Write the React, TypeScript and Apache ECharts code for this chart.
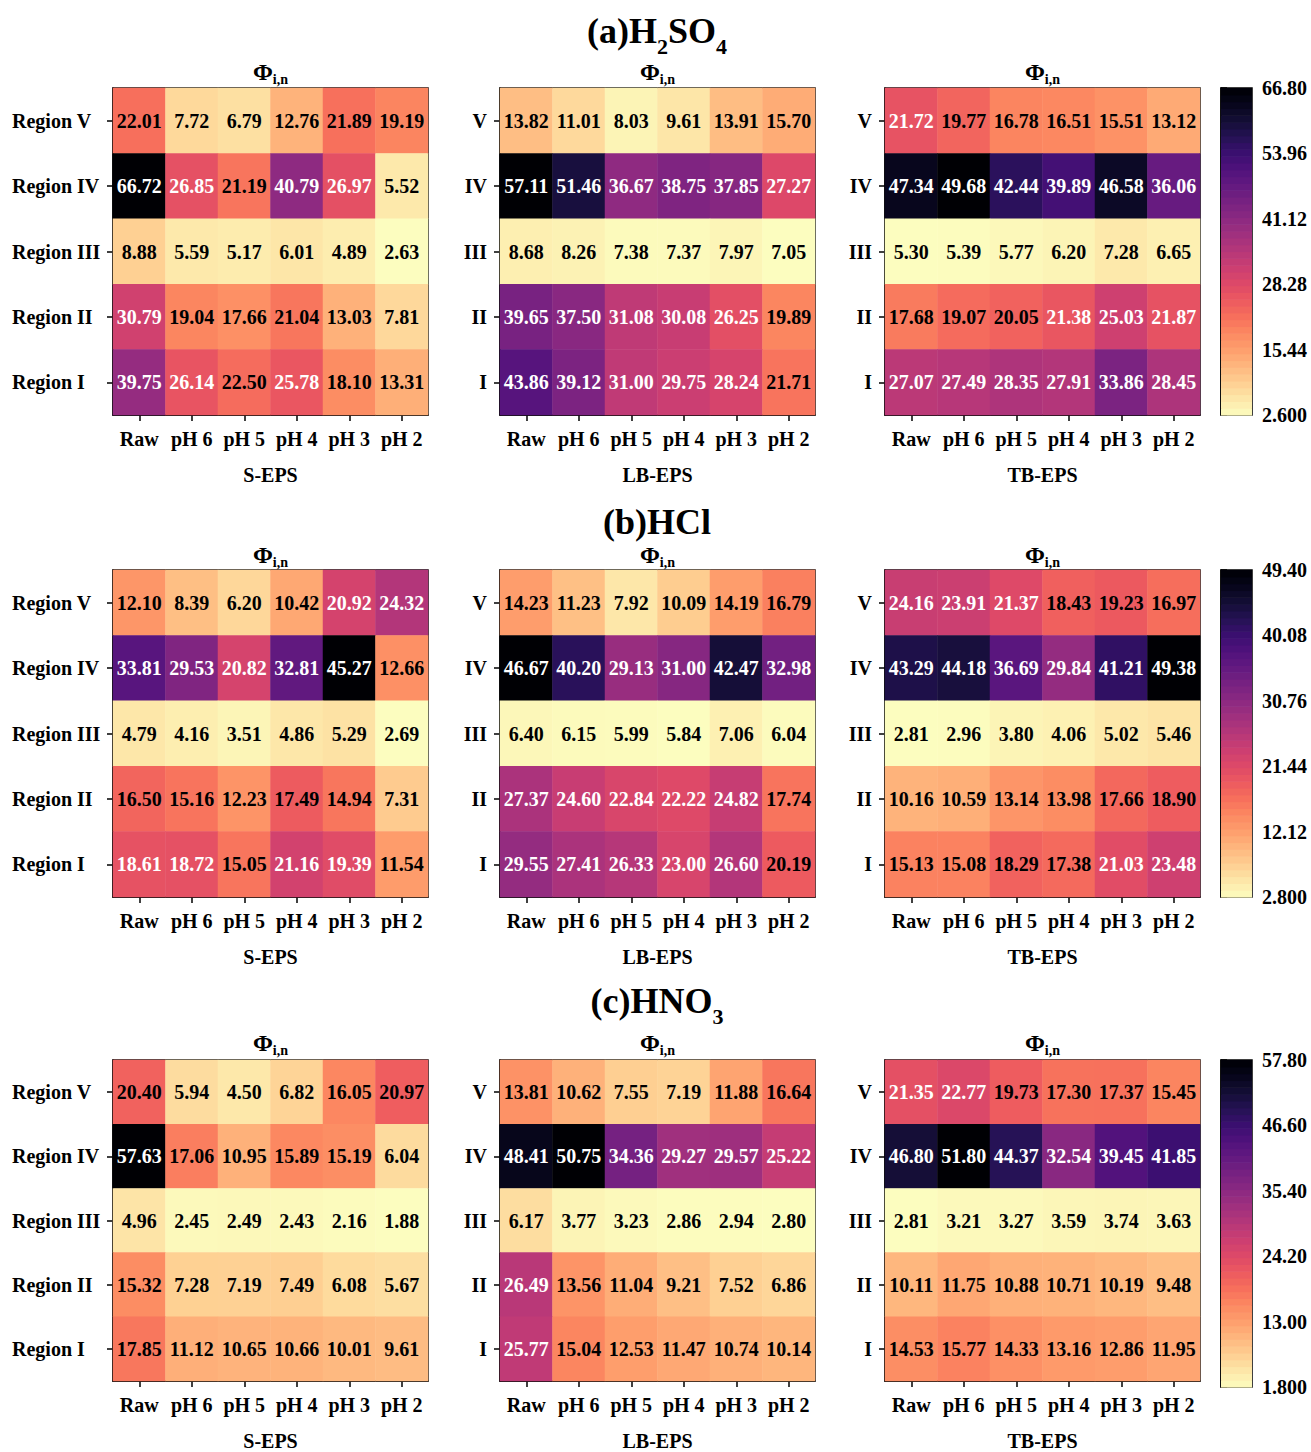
import React, { useEffect, useRef } from 'react';
import * as echarts from 'echarts';

const FONT = '"Liberation Serif", "Times New Roman", serif';

const xCategories = ['Raw', 'pH 6', 'pH 5', 'pH 4', 'pH 3', 'pH 2'];
const regions = ['I', 'II', 'III', 'IV', 'V'];
const panelNames = ['S-EPS', 'LB-EPS', 'TB-EPS'];
const rowTitles = ['(a)H{s|2}SO{s|4}', '(b)HCl', '(c)HNO{s|3}'];

// rows listed top to bottom: Region V, IV, III, II, I
const h2so4S = [
  [22.01, 7.72, 6.79, 12.76, 21.89, 19.19],
  [66.72, 26.85, 21.19, 40.79, 26.97, 5.52],
  [8.88, 5.59, 5.17, 6.01, 4.89, 2.63],
  [30.79, 19.04, 17.66, 21.04, 13.03, 7.81],
  [39.75, 26.14, 22.5, 25.78, 18.1, 13.31],
];
const h2so4LB = [
  [13.82, 11.01, 8.03, 9.61, 13.91, 15.7],
  [57.11, 51.46, 36.67, 38.75, 37.85, 27.27],
  [8.68, 8.26, 7.38, 7.37, 7.97, 7.05],
  [39.65, 37.5, 31.08, 30.08, 26.25, 19.89],
  [43.86, 39.12, 31.0, 29.75, 28.24, 21.71],
];
const h2so4TB = [
  [21.72, 19.77, 16.78, 16.51, 15.51, 13.12],
  [47.34, 49.68, 42.44, 39.89, 46.58, 36.06],
  [5.3, 5.39, 5.77, 6.2, 7.28, 6.65],
  [17.68, 19.07, 20.05, 21.38, 25.03, 21.87],
  [27.07, 27.49, 28.35, 27.91, 33.86, 28.45],
];
const hclS = [
  [12.1, 8.39, 6.2, 10.42, 20.92, 24.32],
  [33.81, 29.53, 20.82, 32.81, 45.27, 12.66],
  [4.79, 4.16, 3.51, 4.86, 5.29, 2.69],
  [16.5, 15.16, 12.23, 17.49, 14.94, 7.31],
  [18.61, 18.72, 15.05, 21.16, 19.39, 11.54],
];
const hclLB = [
  [14.23, 11.23, 7.92, 10.09, 14.19, 16.79],
  [46.67, 40.2, 29.13, 31.0, 42.47, 32.98],
  [6.4, 6.15, 5.99, 5.84, 7.06, 6.04],
  [27.37, 24.6, 22.84, 22.22, 24.82, 17.74],
  [29.55, 27.41, 26.33, 23.0, 26.6, 20.19],
];
const hclTB = [
  [24.16, 23.91, 21.37, 18.43, 19.23, 16.97],
  [43.29, 44.18, 36.69, 29.84, 41.21, 49.38],
  [2.81, 2.96, 3.8, 4.06, 5.02, 5.46],
  [10.16, 10.59, 13.14, 13.98, 17.66, 18.9],
  [15.13, 15.08, 18.29, 17.38, 21.03, 23.48],
];
const hno3S = [
  [20.4, 5.94, 4.5, 6.82, 16.05, 20.97],
  [57.63, 17.06, 10.95, 15.89, 15.19, 6.04],
  [4.96, 2.45, 2.49, 2.43, 2.16, 1.88],
  [15.32, 7.28, 7.19, 7.49, 6.08, 5.67],
  [17.85, 11.12, 10.65, 10.66, 10.01, 9.61],
];
const hno3LB = [
  [13.81, 10.62, 7.55, 7.19, 11.88, 16.64],
  [48.41, 50.75, 34.36, 29.27, 29.57, 25.22],
  [6.17, 3.77, 3.23, 2.86, 2.94, 2.8],
  [26.49, 13.56, 11.04, 9.21, 7.52, 6.86],
  [25.77, 15.04, 12.53, 11.47, 10.74, 10.14],
];
const hno3TB = [
  [21.35, 22.77, 19.73, 17.3, 17.37, 15.45],
  [46.8, 51.8, 44.37, 32.54, 39.45, 41.85],
  [2.81, 3.21, 3.27, 3.59, 3.74, 3.63],
  [10.11, 11.75, 10.88, 10.71, 10.19, 9.48],
  [14.53, 15.77, 14.33, 13.16, 12.86, 11.95],
];

const panels = [
  [h2so4S, h2so4LB, h2so4TB],
  [hclS, hclLB, hclTB],
  [hno3S, hno3LB, hno3TB],
];

// colorbar ranges (min, max) for each row
const colorbarMin = [2.6, 2.8, 1.8];
const colorbarMax = [66.8, 49.4, 57.8];

const magmaR = [
  '#fcfdbf', '#fde7a9', '#fecf92', '#feb77e', '#fe9f6d', '#fc8961', '#f7705c',
  '#ed5a5f', '#de4968', '#cc3f71', '#b73779', '#a1307e', '#8c2981', '#782281',
  '#641a80', '#51127c', '#3b0f70', '#251255', '#140e36', '#07061c', '#000004',
];

const COL_LEFT = [113, 500, 885];
const ROW_TOP = [88, 570, 1060];
const GRID_W = 315;
const GRID_H = 327;
const CB_LEFT = 1221;
const CB_W = 31;
const TITLE_CENTER = [31, 522, 1001];
const PHI_CENTER = [72, 555, 1043];
const WHITE_T = 0.36;
const BANDS = 48;

const txt = { fontFamily: FONT, fontWeight: 'bold' as const, color: '#000' };

function buildOption() {
  const grid: any[] = [];
  const xAxis: any[] = [];
  const yAxis: any[] = [];
  const series: any[] = [];
  const title: any[] = [];

  for (let r = 0; r < 3; r++) {
    title.push({
      text: rowTitles[r],
      left: 657,
      top: TITLE_CENTER[r] - 26,
      padding: 0,
      textAlign: 'center',
      textStyle: {
        ...txt,
        fontSize: 36,
        lineHeight: 52,
        rich: { s: { ...txt, fontSize: 22, lineHeight: 22, verticalAlign: 'bottom' } },
      },
    });
    for (let c = 0; c < 3; c++) {
      const gi = grid.length;
      const data = panels[r][c];
      const flat = data.flat();
      const mn = Math.min(...flat);
      const mx = Math.max(...flat);
      grid.push({
        left: COL_LEFT[c], top: ROW_TOP[r], width: GRID_W, height: GRID_H,
        show: true, borderColor: '#000', borderWidth: 1.5, backgroundColor: 'transparent',
      });
      title.push({
        text: '{p|Φ}{s|i,n}',
        left: COL_LEFT[c] + GRID_W / 2,
        top: PHI_CENTER[r] - 14,
        padding: 0,
        textAlign: 'center',
        textStyle: {
          ...txt,
          fontSize: 24,
          lineHeight: 28,
          rich: {
            p: { ...txt, fontSize: 24, lineHeight: 28 },
            s: { ...txt, fontSize: 14, lineHeight: 14, verticalAlign: 'bottom' },
          },
        },
      });
      xAxis.push({
        type: 'category', gridIndex: gi, data: xCategories, position: 'bottom',
        axisLine: { show: true, lineStyle: { color: '#000', width: 1.5 } },
        axisTick: { show: true, alignWithLabel: true, length: 6, lineStyle: { color: '#000', width: 1.5 } },
        axisLabel: { ...txt, fontSize: 20, margin: 14, interval: 0 },
        splitLine: { show: false }, splitArea: { show: false },
        name: panelNames[c], nameLocation: 'middle', nameGap: 50,
        nameTextStyle: { ...txt, fontSize: 20 },
      });
      yAxis.push({
        type: 'category', gridIndex: gi, data: regions,
        axisLine: { show: true, lineStyle: { color: '#000', width: 1.5 } },
        axisTick: { show: true, alignWithLabel: true, length: 6, lineStyle: { color: '#000', width: 1.5 } },
        axisLabel: c === 0
          ? { ...txt, fontSize: 20, margin: 101, interval: 0, align: 'left', formatter: 'Region {value}' }
          : { ...txt, fontSize: 20, margin: 13, interval: 0, formatter: '{value}' },
        splitLine: { show: false }, splitArea: { show: false },
      });
      const items: any[] = [];
      data.forEach((row, ri) => {
        row.forEach((v, ci) => {
          const t = (v - mn) / (mx - mn);
          items.push({
            value: [ci, 4 - ri, v, t],
            label: { color: t >= WHITE_T ? '#fff' : '#000' },
          });
        });
      });
      series.push({
        type: 'heatmap', xAxisIndex: gi, yAxisIndex: gi, data: items,
        label: {
          show: true, fontFamily: FONT, fontWeight: 'bold', fontSize: 20,
          formatter: (p: any) => p.value[2].toFixed(2),
        },
        emphasis: { disabled: true },
        itemStyle: { borderWidth: 0 },
      });
    }
    // colorbar
    const cbi = grid.length;
    const lo = colorbarMin[r];
    const hi = colorbarMax[r];
    grid.push({
      left: CB_LEFT, top: ROW_TOP[r], width: CB_W, height: GRID_H,
      show: true, borderColor: '#000', borderWidth: 1.5, backgroundColor: 'transparent',
    });
    xAxis.push({ type: 'value', gridIndex: cbi, min: 0, max: 1, show: false });
    yAxis.push({
      type: 'value', gridIndex: cbi, min: 0, max: 5, interval: 1, position: 'right',
      axisLine: { show: true, lineStyle: { color: '#000', width: 1.5 } },
      axisTick: { show: true, length: 6, lineStyle: { color: '#000', width: 1.5 } },
      axisLabel: {
        ...txt, fontSize: 20, margin: 10,
        formatter: (v: number) => (lo + (v * (hi - lo)) / 5).toPrecision(4),
      },
      splitLine: { show: false },
    });
    const bands: any[] = [];
    for (let i = 0; i < BANDS; i++) {
      bands.push([0, (i / BANDS) * 5, ((i + 1) / BANDS) * 5, (i + 0.5) / BANDS]);
    }
    series.push({
      type: 'custom', xAxisIndex: cbi, yAxisIndex: cbi, data: bands,
      renderItem: (params: any, api: any) => {
        const p0 = api.coord([0, api.value(1)]);
        const p1 = api.coord([1, api.value(2)]);
        return {
          type: 'rect',
          shape: { x: p0[0], y: p1[1], width: p1[0] - p0[0], height: p0[1] - p1[1] + 0.6 },
          style: { fill: api.visual('color') },
        };
      },
      silent: true,
    });
  }

  return {
    animation: false,
    backgroundColor: '#fff',
    title,
    grid,
    xAxis,
    yAxis,
    visualMap: {
      type: 'continuous', show: false, min: 0, max: 1, dimension: 3,
      seriesIndex: series.map((_, i) => i),
      inRange: { color: magmaR },
    },
    series,
  };
}

export default function App() {
  const ref = useRef<HTMLDivElement>(null);
  useEffect(() => {
    if (!ref.current) return;
    const chart = echarts.init(ref.current, undefined, { renderer: 'svg' });
    chart.setOption(buildOption() as any);
    return () => chart.dispose();
  }, []);
  return (
    <div
      ref={ref}
      style={{ position: 'absolute', left: 0, top: 0, width: 1311, height: 1452, background: '#fff' }}
    />
  );
}
